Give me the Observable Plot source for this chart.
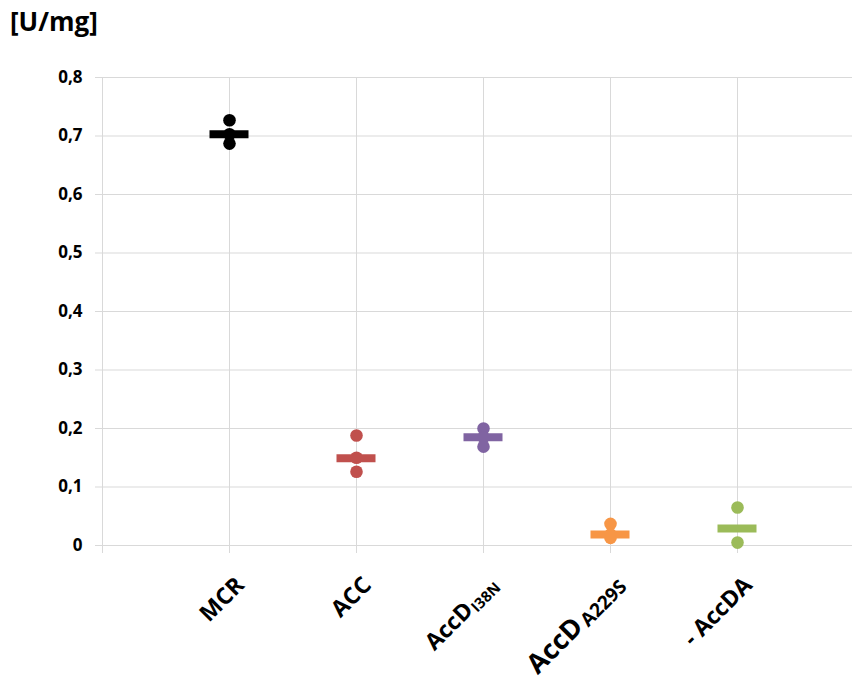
<!DOCTYPE html>
<html>
<head>
<meta charset="utf-8">
<script src="https://cdn.jsdelivr.net/npm/d3@7"></script>
<script src="https://cdn.jsdelivr.net/npm/@observablehq/plot@0.6"></script>
<style>
  body { margin: 0; background: #fff; font-family: "Open Sans", sans-serif; }
  #title { height: 42px; line-height: 42px; padding-left: 10px; font-size: 26px; font-weight: bold; color: #000; }
</style>
</head>
<body>
<div id="title">[U/mg]</div>
<div id="chart"></div>
<script>
// ---- data ----
const categories = ["MCR", "ACC", "AccD_I38N", "AccD_A229S", "- AccDA"];
const labelBase = ["MCR", "ACC", "AccD", "AccD", "- AccDA"];
const labelSub = ["", "", "I38N", "A229S", ""];
const colors = ["#000000", "#C0504D", "#8064A2", "#F79646", "#9BBB59"];
const replicateCategory = ["MCR", "MCR", "MCR", "ACC", "ACC", "ACC", "AccD_I38N", "AccD_I38N", "AccD_I38N", "AccD_A229S", "AccD_A229S", "AccD_A229S", "- AccDA", "- AccDA"];
const replicateValue = [0.727, 0.703, 0.687, 0.188, 0.150, 0.126, 0.200, 0.185, 0.169, 0.037, 0.019, 0.013, 0.065, 0.005];
const centralValue = [0.703, 0.149, 0.185, 0.019, 0.029];
const yTicks = [0, 0.1, 0.2, 0.3, 0.4, 0.5, 0.6, 0.7, 0.8];
const yTickLabels = ["0", "0,1", "0,2", "0,3", "0,4", "0,5", "0,6", "0,7", "0,8"];

// ---- layout helpers ----
const pxPerUnitX = 127;            // category spacing in px
const plotWidthPx = 750;
const pxPerUnitY = 585;            // px per 1.0 on y
const xPos = c => categories.indexOf(c) + 1;
const colorOf = c => colors[categories.indexOf(c)];
const halfBar = 19.5 / pxPerUnitX;
const grid = "#d9d9d9";

const dots = replicateCategory.map((c, i) => ({c, v: replicateValue[i]}));
const bars = categories.map((c, i) => ({c, v: centralValue[i]}));

const svg = Plot.plot({
  width: 854,
  height: 638,
  marginTop: 35,
  marginBottom: 135,
  marginLeft: 102,
  marginRight: 2,
  style: {fontFamily: "'Open Sans', sans-serif", color: "#000", background: "#fff"},
  x: {type: "linear", domain: [0, plotWidthPx / pxPerUnitX], axis: null},
  y: {domain: [0, 0.8], axis: null},
  marks: [
    Plot.ruleY(yTicks, {y: d => d, x1: -7 / pxPerUnitX, x2: plotWidthPx / pxPerUnitX, stroke: grid, strokeWidth: 1}),
    Plot.ruleX(categories, {x: d => xPos(d), y1: -8 / pxPerUnitY, y2: 0.8, stroke: grid, strokeWidth: 1}),
    Plot.ruleX([0], {x: d => d, y1: -8 / pxPerUnitY, y2: 0.8, stroke: grid, strokeWidth: 1}),
    Plot.axisY(yTicks, {
      anchor: "left", tickSize: 0, tickPadding: 20, label: null,
      tickFormat: d => yTickLabels[yTicks.indexOf(d)],
      fontSize: 17, fontWeight: "bold", fill: "#000"
    }),
    Plot.dot(dots, {x: d => xPos(d.c), y: "v", r: 6.3, fill: d => colorOf(d.c), stroke: "none"}),
    Plot.ruleY(bars, {y: "v", x1: d => xPos(d.c) - halfBar, x2: d => xPos(d.c) + halfBar, stroke: d => colorOf(d.c), strokeWidth: 8}),
    Plot.text(categories, {
      x: d => xPos(d), y: () => 0,
      text: (d, i) => labelBase[i],
      rotate: -45, textAnchor: "end", lineAnchor: "bottom",
      dx: 16, dy: 41,
      fontSize: 23, fontWeight: "bold", fill: "#000",
      ariaDescription: "category-labels"
    })
  ]
});

// add subscripts to category labels
d3.select(svg).selectAll('g[aria-description="category-labels"] text').each(function(_, k) {
  const i = k;
  const t = d3.select(this);
  const base = labelBase[i], sub = labelSub[i];
  if (!sub) return;
  t.text(null);
  const big = categories[i] === "AccD_A229S";
  t.append("tspan").attr("font-size", big ? 27 : 23).text(base);
  t.append("tspan").attr("font-size", big ? 19 : 15).attr("dy", big ? 2 : 3).attr("dx", big ? 3 : 1).text(sub);
});

document.getElementById("chart").appendChild(svg);
</script>
</body>
</html>
